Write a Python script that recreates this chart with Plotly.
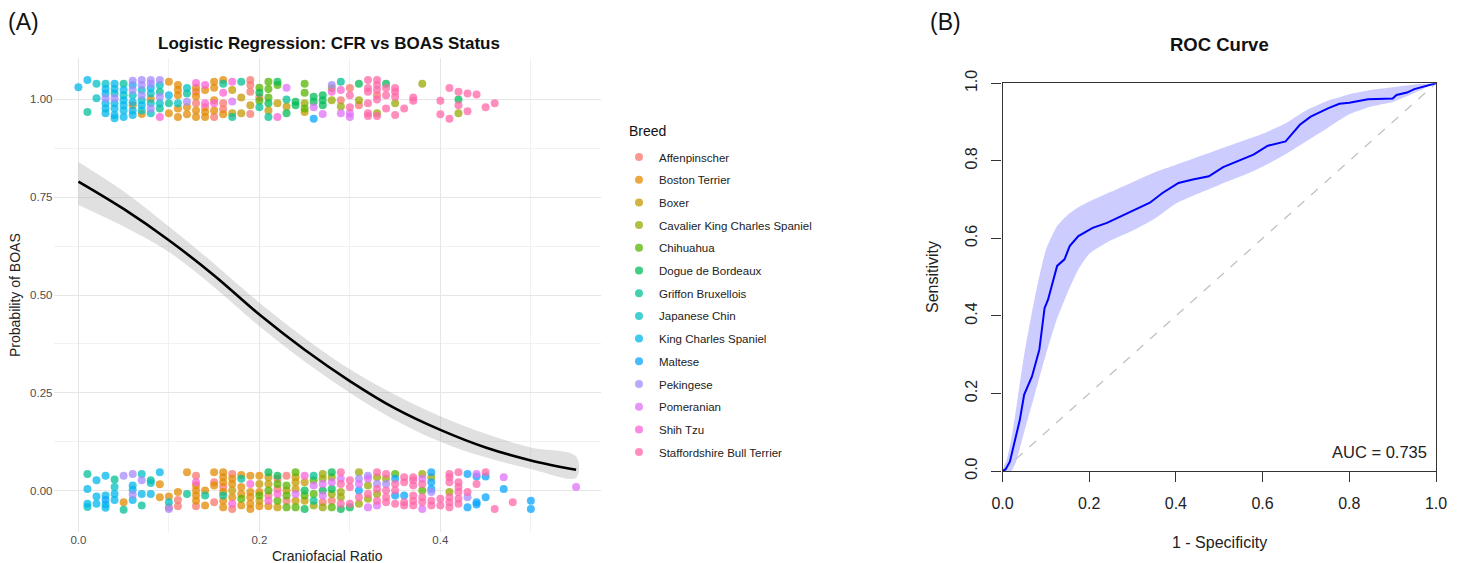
import math
import plotly.graph_objects as go

W, H = 1460, 563

# ---------------- Panel A data (jittered points, BOAS = 1 near 1, BOAS = 0 near 0) -------------
breeds = ["Affenpinscher", "Boston Terrier", "Boxer", "Cavalier King Charles Spaniel",
          "Chihuahua", "Dogue de Bordeaux", "Griffon Bruxellois", "Japanese Chin",
          "King Charles Spaniel", "Maltese", "Pekingese", "Pomeranian", "Shih Tzu",
          "Staffordshire Bull Terrier"]
legend_title = "Breed"

affenpinscher_x = [0.13, 0.13, 0.14, 0.15, 0.16, 0.16, 0.19, 0.19, 0.19, 0.19, 0.20, 0.29, 0.30, 0.31, 0.33,
                   0.10, 0.11, 0.11, 0.13, 0.13, 0.15, 0.15, 0.16, 0.17, 0.17, 0.21, 0.22, 0.22, 0.23, 0.23, 0.27, 0.28]
affenpinscher_y = [1.02, 0.99, 0.98, 0.955, 0.99, 0.975, 1.05, 1.037, 1.02, 0.963, 1.005, 0.998, 1.029, 0.985, 1.011,
                   -0.043, -0.024, -0.040, 0.038, -0.04, 0.021, -0.030, 0.009, 0.042, -0.047, -0.013, 0.030, 0.004, 0.038, -0.026, -0.030, -0.026]

boston_x = [0.06, 0.07, 0.08, 0.10, 0.10, 0.11, 0.11, 0.11, 0.11, 0.11, 0.12, 0.12, 0.13, 0.13, 0.13, 0.13,
            0.14, 0.14, 0.14, 0.15, 0.15, 0.15, 0.15, 0.16, 0.16,
            0.05, 0.09, 0.09, 0.10, 0.11, 0.12, 0.13, 0.13, 0.13, 0.13, 0.14, 0.14, 0.15, 0.15, 0.16, 0.16, 0.16,
            0.16, 0.16, 0.16, 0.17, 0.17, 0.17, 0.18, 0.18, 0.18, 0.18, 0.19, 0.19, 0.19, 0.19, 0.19, 0.20, 0.20,
            0.20, 0.21]
boston_y = [0.985, 0.963, 1.002, 1.045, 0.965, 1.037, 1.024, 1.011, 0.977, 0.955, 0.981, 0.962, 1.03, 1.008, 0.972, 0.955,
            1.024, 0.968, 0.955, 1.045, 1.03, 0.998, 0.972, 1.05, 0.962,
            -0.030, 0.016, -0.017, -0.015, -0.004, 0.047, 0.013, 0.0, -0.013, -0.026, 0.0, -0.038, 0.047, 0.013, 0.047, 0.034, 0.021,
            -0.004, -0.026, -0.043, 0.030, 0.017, -0.017, 0.04, 0.009, -0.009, -0.038, 0.038, -0.004, -0.017, -0.034, -0.047, 0.038, -0.004,
            -0.04, -0.04]

boxer_x = [0.17, 0.17, 0.18, 0.18, 0.19, 0.21, 0.22, 0.23, 0.25,
           0.17, 0.20, 0.20, 0.21, 0.21, 0.22, 0.23, 0.24, 0.24, 0.24, 0.24, 0.25, 0.25]
boxer_y = [1.024, 0.965, 1.005, 0.965, 0.985, 0.972, 0.99, 0.982, 0.968,
           0.0, 0.017, -0.026, 0.034, 0.017, -0.043, 0.0, 0.034, 0.021, 0.004, -0.026, 0.021, -0.026]

cavalier_x = [0.25, 0.28, 0.28, 0.29, 0.31, 0.33, 0.35, 0.38, 0.42,
              0.26, 0.27, 0.27, 0.27, 0.28, 0.28, 0.29, 0.29, 0.31, 0.31, 0.32, 0.32, 0.33, 0.33, 0.34, 0.38, 0.39, 0.41]
cavalier_y = [0.99, 1.029, 0.998, 0.982, 0.998, 0.965, 0.99, 1.04, 0.965,
              -0.038, 0.042, 0.030, -0.043, 0.034, -0.009, -0.004, -0.017, 0.047, -0.034, 0.013, -0.021, 0.034, -0.009, 0.030, 0.042, 0.034, -0.004]

chihuahua_x = [0.20, 0.20, 0.21, 0.21, 0.21, 0.22, 0.25, 0.25, 0.25,
               0.18, 0.20, 0.21, 0.22, 0.22, 0.23, 0.23, 0.23, 0.24, 0.24, 0.25, 0.26, 0.26, 0.28, 0.35, 0.38]
chihuahua_y = [1.03, 0.997, 1.045, 1.027, 1.005, 1.037, 1.04, 1.017, 0.977,
               -0.021, -0.013, 0.0, 0.017, -0.026, 0.013, -0.013, -0.043, 0.047, -0.043, -0.013, 0.026, -0.009, -0.043, 0.042, 0.0]

dogue_x = [0.20, 0.21, 0.22, 0.23, 0.24, 0.24, 0.26, 0.26, 0.27, 0.27, 0.27, 0.31, 0.34, 0.42,
           0.21, 0.22, 0.25, 0.25, 0.27, 0.28, 0.28, 0.29, 0.30]
dogue_y = [1.017, 0.99, 1.045, 0.965, 0.994, 0.985, 1.007, 0.994, 1.011, 0.998, 0.985, 1.04, 1.04, 1.0,
           0.047, 0.038, 0.0, -0.047, 0.0, 0.047, 0.004, -0.047, -0.043]

griffon_x = [0.01, 0.05, 0.09, 0.09, 0.10, 0.12, 0.16, 0.17, 0.18, 0.20, 0.21, 0.23, 0.29,
             0.01, 0.04, 0.05, 0.07, 0.08, 0.12, 0.14, 0.16, 0.18, 0.26, 0.26]
griffon_y = [0.968, 1.04, 1.02, 0.977, 0.99, 1.015, 1.04, 0.955, 1.045, 0.98, 0.955, 1.0, 1.045,
             0.042, 0.028, -0.049, -0.038, 0.026, -0.009, -0.013, -0.013, 0.03, 0.038, -0.026]

japanese_x = [0.02, 0.02, 0.03, 0.04, 0.05, 0.06, 0.07, 0.07, 0.07, 0.08, 0.08, 0.08, 0.09, 0.09, 0.11, 0.12,
              0.01, 0.04, 0.07, 0.08, 0.10]
japanese_y = [1.04, 1.003, 1.04, 1.015, 1.011, 1.011, 1.024, 0.998, 0.972, 1.015, 0.99, 0.965, 1.037, 0.99, 0.99, 1.029,
              -0.042, 0.009, 0.042, 0.019, -0.030]

kingcharles_x = [0.00, 0.01, 0.03, 0.03, 0.03, 0.03, 0.03, 0.04, 0.04, 0.04, 0.04, 0.04, 0.04, 0.05, 0.05, 0.05,
                 0.05, 0.05, 0.06, 0.06, 0.06, 0.06, 0.07, 0.08, 0.10,
                 0.01, 0.01, 0.02, 0.02, 0.02, 0.03, 0.03, 0.03, 0.03, 0.04, 0.04, 0.06, 0.06, 0.06, 0.07, 0.08, 0.09]
kingcharles_y = [1.031, 1.05, 1.027, 1.015, 0.99, 0.977, 0.965, 1.04, 1.027, 0.99, 0.977, 0.96, 0.952, 1.024, 0.998, 0.985,
                 0.972, 0.955, 1.037, 0.993, 0.972, 0.96, 0.985, 1.029, 1.011,
                 0.004, -0.034, 0.026, -0.015, -0.034, 0.038, -0.013, -0.036, -0.044, -0.009, -0.024, 0.013, 0.002, -0.024, -0.009, -0.009, 0.047]

maltese_x = [0.26,
             0.03, 0.31, 0.35, 0.35, 0.36, 0.39, 0.39, 0.39, 0.43, 0.43, 0.44, 0.44, 0.44, 0.45, 0.45, 0.47, 0.50, 0.50]
maltese_y = [0.951,
             -0.024, 0.0, 0.030, -0.013, -0.013, 0.047, 0.021, 0.004, 0.042, -0.043, 0.036, -0.030, -0.036, 0.036, -0.017, 0.004, -0.026, -0.047]

pekingese_x = [0.03, 0.04, 0.06, 0.06, 0.07, 0.07, 0.07, 0.08, 0.08, 0.08, 0.09, 0.09, 0.12, 0.28,
               0.05, 0.06, 0.06, 0.07, 0.10, 0.31, 0.32, 0.33, 0.34, 0.39, 0.43]
pekingese_y = [1.003, 1.003, 1.048, 1.024, 1.05, 1.037, 1.011, 1.05, 1.04, 0.977, 1.05, 1.007, 0.994, 1.037,
               0.038, 0.042, -0.01, 0.026, -0.047, 0.030, 0.038, 0.017, 0.017, -0.004, -0.017]

pomeranian_x = [0.17, 0.23, 0.26, 0.27, 0.29, 0.30, 0.30,
                0.24, 0.26, 0.27, 0.27, 0.28, 0.29, 0.31, 0.32, 0.32, 0.33, 0.38, 0.38, 0.44, 0.47, 0.55]
pomeranian_y = [0.995, 1.03, 0.98, 0.963, 0.965, 0.965, 0.955,
                -0.009, 0.013, 0.017, -0.013, 0.021, 0.030, 0.017, 0.030, -0.043, -0.038, 0.030, -0.047, 0.042, 0.034, 0.009]

shihtzu_x = [0.09, 0.13, 0.14, 0.14, 0.15, 0.16, 0.17, 0.22, 0.28, 0.29,
             0.13, 0.17, 0.19, 0.21, 0.22, 0.25]
shihtzu_y = [0.955, 1.042, 1.037, 0.99, 0.99, 1.017, 1.045, 0.955, 1.02, 1.024,
             0.021, -0.034, 0.017, -0.026, -0.009, 0.038]

staffy_x = [0.30, 0.30, 0.32, 0.32, 0.32, 0.32, 0.32, 0.32, 0.33, 0.33, 0.33, 0.33, 0.33, 0.34, 0.34, 0.34,
            0.35, 0.35, 0.35, 0.35, 0.36, 0.37, 0.37, 0.40, 0.40, 0.41, 0.41, 0.42, 0.42, 0.43, 0.43, 0.44, 0.45, 0.46,
            0.29, 0.29, 0.29, 0.30, 0.30, 0.30, 0.31, 0.32, 0.33, 0.33, 0.33, 0.34, 0.34, 0.34, 0.34, 0.35, 0.35, 0.35,
            0.36, 0.36, 0.36, 0.36, 0.37, 0.37, 0.37, 0.37, 0.37, 0.37, 0.38, 0.38, 0.38, 0.39, 0.39, 0.40, 0.40,
            0.41, 0.41, 0.41, 0.41, 0.41, 0.41, 0.42, 0.42, 0.42, 0.42, 0.42, 0.42, 0.43, 0.44, 0.45, 0.46, 0.48]
staffy_y = [1.011, 0.98, 1.05, 1.029, 1.02, 0.99, 0.965, 0.958, 1.05, 1.037, 1.024, 1.0, 0.958, 1.029, 1.011, 0.977,
            1.029, 1.02, 1.007, 0.96, 0.977, 1.005, 0.997, 0.997, 0.962, 1.029, 0.951, 1.02, 0.985, 1.015, 0.97, 1.013, 0.98, 0.99,
            0.047, 0.017, -0.034, 0.026, 0.009, -0.034, -0.017, -0.009, 0.047, 0.004, -0.026, 0.042, 0.0, -0.017, -0.030, 0.017, 0.0, -0.034,
            0.034, 0.021, -0.030, -0.038, 0.034, 0.026, 0.013, -0.013, -0.026, -0.038, 0.017, -0.017, -0.030, -0.026, -0.038, -0.021, -0.038,
            0.042, 0.034, 0.021, -0.017, -0.030, -0.043, 0.047, 0.021, 0.009, -0.004, -0.021, -0.034, -0.004, 0.017, 0.047, -0.047, -0.030]

breed_x = [affenpinscher_x, boston_x, boxer_x, cavalier_x, chihuahua_x, dogue_x, griffon_x,
           japanese_x, kingcharles_x, maltese_x, pekingese_x, pomeranian_x, shihtzu_x, staffy_x]
breed_y = [affenpinscher_y, boston_y, boxer_y, cavalier_y, chihuahua_y, dogue_y, griffon_y,
           japanese_y, kingcharles_y, maltese_y, pekingese_y, pomeranian_y, shihtzu_y, staffy_y]

# fitted logistic curve with 95% band
fit_x = [0.0, 0.05, 0.10, 0.15, 0.20, 0.25, 0.30, 0.35, 0.40, 0.45, 0.50, 0.55]
fit_p = [0.79, 0.72, 0.64, 0.55, 0.45, 0.36, 0.28, 0.21, 0.155, 0.11, 0.077, 0.053]
fit_lo = [0.73, 0.675, 0.61, 0.52, 0.42, 0.33, 0.25, 0.18, 0.125, 0.085, 0.055, 0.033]
fit_hi = [0.84, 0.765, 0.675, 0.58, 0.48, 0.39, 0.31, 0.245, 0.19, 0.145, 0.11, 0.087]

a_xticks = [0.0, 0.2, 0.4]
a_xlabels = ["0.0", "0.2", "0.4"]
a_yticks = [0.0, 0.25, 0.5, 0.75, 1.0]
a_ylabels = ["0.00", "0.25", "0.50", "0.75", "1.00"]

# ---------------- Panel B data (ROC) -------------
roc_fpr = [0, 0.007, 0.017, 0.027, 0.04, 0.05, 0.068, 0.085, 0.097, 0.105, 0.118, 0.126, 0.143, 0.155, 0.175,
           0.208, 0.241, 0.274, 0.307, 0.34, 0.369, 0.406, 0.439, 0.476, 0.509, 0.546, 0.579, 0.612, 0.653, 0.67,
           0.686, 0.711, 0.752, 0.777, 0.80, 0.843, 0.90, 0.909, 0.933, 0.95, 1.0]
roc_tpr = [0, 0.004, 0.024, 0.072, 0.132, 0.197, 0.244, 0.313, 0.42, 0.442, 0.50, 0.529, 0.546, 0.58, 0.606,
           0.627, 0.64, 0.657, 0.675, 0.692, 0.717, 0.743, 0.752, 0.76, 0.784, 0.80, 0.816, 0.839, 0.85, 0.872,
           0.893, 0.914, 0.936, 0.947, 0.95, 0.959, 0.961, 0.97, 0.976, 0.985, 1.0]
band_x = [0, 0.01, 0.02, 0.03, 0.05, 0.075, 0.1, 0.125, 0.15, 0.175, 0.2, 0.25, 0.3, 0.35, 0.4, 0.45, 0.5,
          0.55, 0.6, 0.65, 0.7, 0.75, 0.8, 0.85, 0.9, 0.95, 1.0]
band_hi = [0, 0.03, 0.08, 0.15, 0.30, 0.45, 0.57, 0.63, 0.66, 0.68, 0.695, 0.72, 0.745, 0.77, 0.79, 0.81, 0.83,
           0.85, 0.87, 0.895, 0.93, 0.955, 0.972, 0.983, 0.99, 0.997, 1.0]
band_lo = [0, 0.0, 0.0, 0.02, 0.1, 0.2, 0.3, 0.39, 0.46, 0.52, 0.56, 0.595, 0.62, 0.65, 0.69, 0.715, 0.738,
           0.76, 0.785, 0.815, 0.85, 0.885, 0.92, 0.94, 0.952, 0.975, 1.0]
diag_x = [0, 1]
diag_y = [0, 1]
b_ticks = [0.0, 0.2, 0.4, 0.6, 0.8, 1.0]
b_labels = ["0.0", "0.2", "0.4", "0.6", "0.8", "1.0"]
auc_text = "AUC = 0.735"


def hue_pal(n, c=100.0, l=65.0):
    """ggplot2 default discrete hue palette (hcl colours)."""
    cols = []
    Xn, Yn, Zn = 95.047, 100.0, 108.883
    denom = Xn + 15 * Yn + 3 * Zn
    un, vn = 4 * Xn / denom, 9 * Yn / denom
    for i in range(n):
        h = 15 + 360.0 * i / n
        hr = math.radians(h)
        u, v = c * math.cos(hr), c * math.sin(hr)
        Y = Yn * ((l + 16) / 116) ** 3
        up, vp = u / (13 * l) + un, v / (13 * l) + vn
        X = 9 * Y * up / (4 * vp)
        Z = Y * (12 - 3 * up - 20 * vp) / (4 * vp)
        X, Y, Z = X / 100, Y / 100, Z / 100
        rgb = [3.2404542 * X - 1.5371385 * Y - 0.4985314 * Z,
               -0.9692660 * X + 1.8760108 * Y + 0.0415560 * Z,
               0.0556434 * X - 0.2040259 * Y + 1.0572252 * Z]
        out = []
        for ch in rgb:
            ch = 12.92 * ch if ch <= 0.0031308 else 1.055 * ch ** (1 / 2.4) - 0.055
            out.append(int(round(min(max(ch, 0), 1) * 255)))
        cols.append("#%02X%02X%02X" % tuple(out))
    return cols


colors = hue_pal(len(breeds))
FONT = "Liberation Sans, Arial, Helvetica, sans-serif"

fig = go.Figure()

for i, name in enumerate(breeds):
    fig.add_trace(go.Scatter(
        x=breed_x[i], y=breed_y[i], mode="markers", name=name, legendgroup=name,
        marker=dict(color=colors[i], size=8, opacity=0.74, line=dict(width=0)),
        xaxis="x", yaxis="y", hoverinfo="skip"))

fig.add_trace(go.Scatter(
    x=fit_x + fit_x[::-1], y=fit_hi + fit_lo[::-1], fill="toself", mode="lines",
    line=dict(width=0, shape="spline"), fillcolor="rgba(160,160,160,0.32)",
    showlegend=False, xaxis="x", yaxis="y", hoverinfo="skip"))
fig.add_trace(go.Scatter(
    x=fit_x, y=fit_p, mode="lines", line=dict(color="black", width=2.6, shape="spline"),
    showlegend=False, xaxis="x", yaxis="y", hoverinfo="skip"))

# ROC panel
fig.add_trace(go.Scatter(
    x=band_x + band_x[::-1], y=band_hi + band_lo[::-1], fill="toself", mode="lines",
    line=dict(width=0, shape="spline", smoothing=0.5), fillcolor="rgba(0,0,255,0.2)",
    showlegend=False, xaxis="x2", yaxis="y2", hoverinfo="skip"))
fig.add_trace(go.Scatter(
    x=diag_x, y=diag_y, mode="lines", line=dict(color="#BEBEBE", width=1.1, dash="dash"),
    showlegend=False, xaxis="x2", yaxis="y2", hoverinfo="skip"))
fig.add_trace(go.Scatter(
    x=roc_fpr, y=roc_tpr, mode="lines", line=dict(color="#0000FF", width=2),
    showlegend=False, xaxis="x2", yaxis="y2", hoverinfo="skip"))


def px(v):
    return v / W


def py(v):
    return 1 - v / H


a_tick_font = dict(family=FONT, size=11.5, color="#4D4D4D")
b_tick_font = dict(family=FONT, size=16, color="#222222")

fig.update_layout(
    width=W, height=H, margin=dict(l=0, r=0, t=0, b=0, autoexpand=False),
    paper_bgcolor="white", plot_bgcolor="white",
    font=dict(family=FONT, color="#222222"),
    showlegend=True,
    legend=dict(
        x=px(619), y=py(142.5), xanchor="left", yanchor="top",
        font=dict(family=FONT, size=11.5, color="#222222"),
        tracegroupgap=3.7, bgcolor="rgba(0,0,0,0)", itemsizing="trace"),
    xaxis=dict(
        domain=[px(53.5), px(601)], range=[-0.0275, 0.5775], anchor="y", automargin=False,
        tickmode="array", tickvals=a_xticks, ticktext=a_xlabels, tickfont=a_tick_font,
        showgrid=True, gridcolor="#E6E6E6", gridwidth=1.1, zeroline=False, showline=False, ticks="",
        minor=dict(tickvals=[0.1, 0.3, 0.5], showgrid=True, gridcolor="#F1F1F1", gridwidth=0.8)),
    yaxis=dict(
        domain=[(H - 531.6) / H, (H - 58.4) / H], range=[-0.105, 1.105], anchor="x", automargin=False,
        tickmode="array", tickvals=a_yticks, ticktext=a_ylabels, tickfont=a_tick_font,
        showgrid=True, gridcolor="#E6E6E6", gridwidth=1.1, zeroline=False, showline=False, ticks="",
        minor=dict(tickvals=[0.125, 0.375, 0.625, 0.875], showgrid=True, gridcolor="#F1F1F1", gridwidth=0.8)),
    xaxis2=dict(
        domain=[px(1002.5), px(1436)], range=[0, 1], anchor="y2", automargin=False,
        tickmode="array", tickvals=b_ticks, ticktext=b_labels, tickfont=b_tick_font,
        showgrid=False, zeroline=False, showline=True, mirror=True, linecolor="#333333", linewidth=1.2,
        ticks="outside", ticklen=10, tickwidth=1.2, tickcolor="#333333", ticklabelstandoff=8),
    yaxis2=dict(
        domain=[(H - 471) / H, (H - 83.3) / H], range=[0, 1], anchor="x2", automargin=False,
        tickmode="array", tickvals=b_ticks, ticktext=b_labels, tickfont=b_tick_font, tickangle=-90,
        showgrid=False, zeroline=False, showline=True, mirror=True, linecolor="#333333", linewidth=1.2,
        ticks="outside", ticklen=10, tickwidth=1.2, tickcolor="#333333", ticklabelstandoff=8),
)

annotations = [
    dict(text="(A)", x=px(6), y=py(22), xanchor="left", yanchor="middle", font=dict(size=23, color="#111111")),
    dict(text="(B)", x=px(928), y=py(22), xanchor="left", yanchor="middle", font=dict(size=23, color="#111111")),
    dict(text="<b>Logistic Regression: CFR vs BOAS Status</b>", x=px(329), y=py(43), xanchor="center",
         yanchor="middle", font=dict(size=17, color="#111111")),
    dict(text="Probability of BOAS", x=px(15), y=py(295), textangle=-90, xanchor="center", yanchor="middle",
         font=dict(size=14, color="#222222")),
    dict(text="Craniofacial Ratio", x=px(327), y=py(556), xanchor="center", yanchor="middle",
         font=dict(size=14, color="#222222")),
    dict(text=legend_title, x=px(627), y=py(131), xanchor="left", yanchor="middle",
         font=dict(size=14, color="#111111")),
    dict(text="<b>ROC Curve</b>", x=px(1219), y=py(45), xanchor="center", yanchor="middle",
         font=dict(size=18.5, color="#111111")),
    dict(text="Sensitivity", x=px(933), y=py(277), textangle=-90, xanchor="center", yanchor="middle",
         font=dict(size=16, color="#222222")),
    dict(text="1 - Specificity", x=px(1219), y=py(542), xanchor="center", yanchor="middle",
         font=dict(size=16, color="#222222")),
]
for a in annotations:
    a.update(xref="paper", yref="paper", showarrow=False)
    a["font"]["family"] = FONT
annotations.append(dict(text=auc_text, x=0.984, y=0.05, xref="x2", yref="y2", xanchor="right",
                        yanchor="middle", showarrow=False, font=dict(family=FONT, size=16.5, color="#222222")))
fig.update_layout(annotations=annotations)

fig.write_html("out.html")
